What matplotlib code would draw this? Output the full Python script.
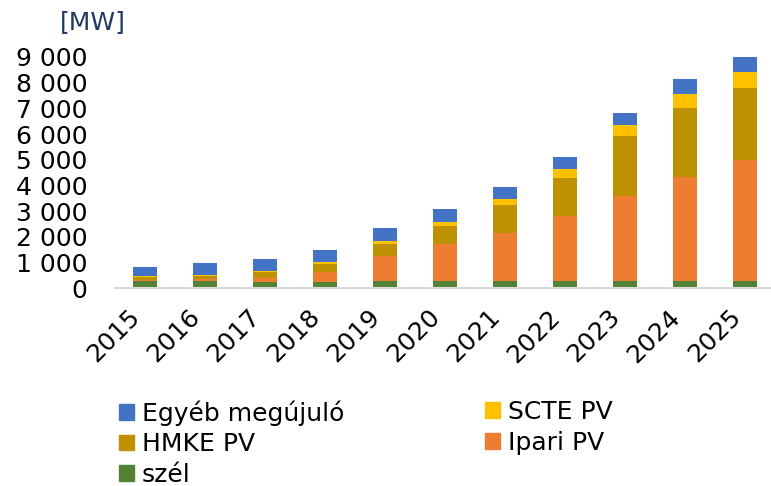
import matplotlib
matplotlib.use("Agg")
import matplotlib.pyplot as plt
from matplotlib.patches import Patch
import numpy as np

years = ["2015", "2016", "2017", "2018", "2019", "2020", "2021", "2022", "2023", "2024", "2025"]
szel = [296, 296, 257, 257, 300, 272, 272, 272, 272, 272, 272]
ipari_pv = [27, 54, 132, 366, 945, 1440, 1883, 2556, 3319, 4058, 4708]
hmke_pv = [117, 140, 233, 335, 467, 700, 1089, 1479, 2335, 2685, 2813]
scte_pv = [27, 27, 51, 66, 144, 183, 233, 350, 416, 545, 634]
egyeb = [350, 467, 455, 479, 479, 479, 467, 455, 467, 572, 572]

series = [
    ("szél", szel, "#548235"),
    ("Ipari PV", ipari_pv, "#ED7D31"),
    ("HMKE PV", hmke_pv, "#BF9000"),
    ("SCTE PV", scte_pv, "#FFC000"),
    ("Egyéb megújuló", egyeb, "#4472C4"),
]

plt.rcParams['font.family'] = ['DejaVu Sans']
FS = 18

fig = plt.figure(figsize=(7.71, 4.86), dpi=100)
ax = fig.add_axes([115/771, 1 - 288.3/486, 656/771, 231.3/486])

x = np.arange(len(years))
bottom = np.zeros(len(years))
handles = {}
for name, vals, col in series:
    v = np.array(vals, dtype=float)
    ax.bar(x, v, width=0.4, bottom=bottom, color=col, edgecolor=col, linewidth=0)
    bottom += v
    handles[name] = Patch(facecolor=col, edgecolor=col)

ax.set_xlim(-0.5, 10.43)
ax.set_ylim(0, 9000)
ax.set_yticks(np.arange(0, 9001, 1000))
ax.set_yticklabels([f"{int(t):,}".replace(",", " ") for t in np.arange(0, 9001, 1000)], fontsize=FS)
ax.set_xticks(x)
ax.set_xticklabels(years, fontsize=FS, rotation=45, ha="right")
ax.tick_params(axis="y", length=0, pad=20)
ax.tick_params(axis="x", length=0, pad=12)
for s in ["top", "right", "left"]:
    ax.spines[s].set_visible(False)
ax.spines["bottom"].set_color("#D9D9D9")
ax.spines["bottom"].set_linewidth(1.5)

fig.text(60/771, 1 - 22/486, "[MW]", fontsize=FS, color="#1F3864", va="center", ha="left")

leg_kw = dict(frameon=False, fontsize=FS, handlelength=0.6, handleheight=0.6,
              handletextpad=0.3, labelspacing=0.27, borderpad=0, borderaxespad=0)
l1 = fig.legend([handles["Egyéb megújuló"], handles["HMKE PV"], handles["szél"]],
                ["Egyéb megújuló", "HMKE PV", "szél"],
                loc="upper left", bbox_to_anchor=(119/771, 1 - 400/486), **leg_kw)
l2 = fig.legend([handles["SCTE PV"], handles["Ipari PV"]],
                ["SCTE PV", "Ipari PV"],
                loc="upper left", bbox_to_anchor=(485/771, 1 - 400/486), **leg_kw)

fig.savefig("out.png", dpi=100)
